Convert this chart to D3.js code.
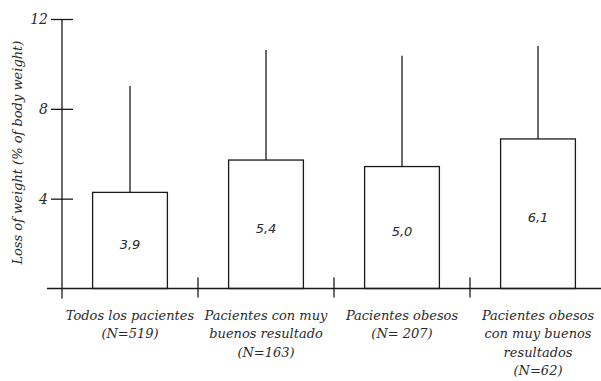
<!DOCTYPE html>
<html>
<head>
<meta charset="utf-8">
<script src="https://cdn.jsdelivr.net/npm/d3@7"></script>
<style>
  body { margin: 0; background: #fff; }
  text { font-family: "DejaVu Serif", serif; font-style: italic; fill: #2a2a2a; }
</style>
</head>
<body>
<div id="Area"></div>
<script>
  // data
  var categories = ["Todos los pacientes", "Pacientes con muy buenos resultado", "Pacientes obesos", "Pacientes obesos con muy buenos resultados"];
  var catLines = [
    ["Todos los pacientes", "(N=519)"],
    ["Pacientes con muy", "buenos resultado", "(N=163)"],
    ["Pacientes obesos", "(N= 207)"],
    ["Pacientes obesos", "con muy buenos", "resultados", "(N=62)"]
  ];
  var barValues = [4.28, 5.72, 5.43, 6.66];
  var errorTops = [9.02, 10.62, 10.36, 10.8];
  var barLabels = ["3,9", "5,4", "5,0", "6,1"];
  var yTicks = [4, 8, 12];

  var width = 601, height = 381;
  var x0 = 62, x1 = 606, yBase = 288.5, yTop = 19;

  var svg = d3.select("#Area")
    .append("svg")
      .attr("width", width)
      .attr("height", height);

  var x = d3.scaleBand()
    .domain(categories)
    .range([x0, x1])
    .paddingInner(0.45)
    .paddingOuter(0.225);

  var y = d3.scaleLinear()
    .domain([0, 12])
    .range([yBase, yTop]);

  var ink = "#1a1a1a";

  // error bars (upper only)
  svg.selectAll(".err")
    .data(categories)
    .enter().append("line")
      .attr("x1", function(d) { return x(d) + x.bandwidth() / 2; })
      .attr("x2", function(d) { return x(d) + x.bandwidth() / 2; })
      .attr("y1", function(d, i) { return y(barValues[i]); })
      .attr("y2", function(d, i) { return y(errorTops[i]); })
      .attr("stroke", ink)
      .attr("stroke-width", 1.3);

  // bars
  svg.selectAll(".bar")
    .data(categories)
    .enter().append("rect")
      .attr("x", function(d) { return x(d); })
      .attr("y", function(d, i) { return y(barValues[i]); })
      .attr("width", x.bandwidth())
      .attr("height", function(d, i) { return y(0) - y(barValues[i]); })
      .attr("fill", "#fff")
      .attr("stroke", ink)
      .attr("stroke-width", 1.3);

  // labels inside bars
  svg.selectAll(".val")
    .data(categories)
    .enter().append("text")
      .attr("x", function(d) { return x(d) + x.bandwidth() / 2; })
      .attr("y", function(d, i) { return (y(barValues[i]) + y(0)) / 2 + 4; })
      .attr("dy", "0.35em")
      .attr("text-anchor", "middle")
      .style("font-family", "'DejaVu Sans', sans-serif")
      .style("font-size", "13px")
      .text(function(d, i) { return barLabels[i]; });

  // y axis
  var yAxis = svg.append("g")
    .attr("transform", "translate(" + x0 + ",0)")
    .call(d3.axisLeft(y).tickValues(yTicks).tickSize(11).tickPadding(4).tickFormat(d3.format("d")));
  yAxis.select(".domain").remove();
  yAxis.selectAll(".tick line").attr("x2", 11).attr("x1", -11).attr("stroke", ink).attr("stroke-width", 1.3);
  yAxis.selectAll(".tick text")
    .attr("x", -14)
    .style("font-family", "'DejaVu Serif', serif")
    .style("font-style", "italic")
    .style("font-size", "14px")
    .attr("fill", "#2a2a2a");
  svg.append("line")
    .attr("x1", x0).attr("x2", x0)
    .attr("y1", y(12)).attr("y2", yBase + 10)
    .attr("stroke", ink).attr("stroke-width", 1.3);

  // x baseline
  svg.append("line")
    .attr("x1", 47).attr("x2", width)
    .attr("y1", yBase).attr("y2", yBase)
    .attr("stroke", ink).attr("stroke-width", 1.3);

  // separators between categories
  svg.selectAll(".sep")
    .data(categories.slice(1))
    .enter().append("line")
      .attr("x1", function(d) { return x(d) - x.step() * x.paddingInner() / 2; })
      .attr("x2", function(d) { return x(d) - x.step() * x.paddingInner() / 2; })
      .attr("y1", yBase - 11)
      .attr("y2", yBase + 9)
      .attr("stroke", ink)
      .attr("stroke-width", 1.3);

  // category labels
  var lab = svg.selectAll(".cat")
    .data(categories)
    .enter().append("text")
      .attr("text-anchor", "middle")
      .style("font-size", "13px")
      .attr("transform", function(d) { return "translate(" + (x(d) + x.bandwidth() / 2) + ",320)"; });
  lab.selectAll("tspan")
    .data(function(d, i) { return catLines[i]; })
    .enter().append("tspan")
      .attr("x", 0)
      .attr("y", function(d, j) { return j * 18.3; })
      .text(function(d) { return d; });

  // y title
  svg.append("text")
    .attr("transform", "translate(22," + (y(6.05)) + ") rotate(-90)")
    .attr("text-anchor", "middle")
    .style("font-size", "13px")
    .text("Loss of weight (% of body weight)");
</script>
</body>
</html>
